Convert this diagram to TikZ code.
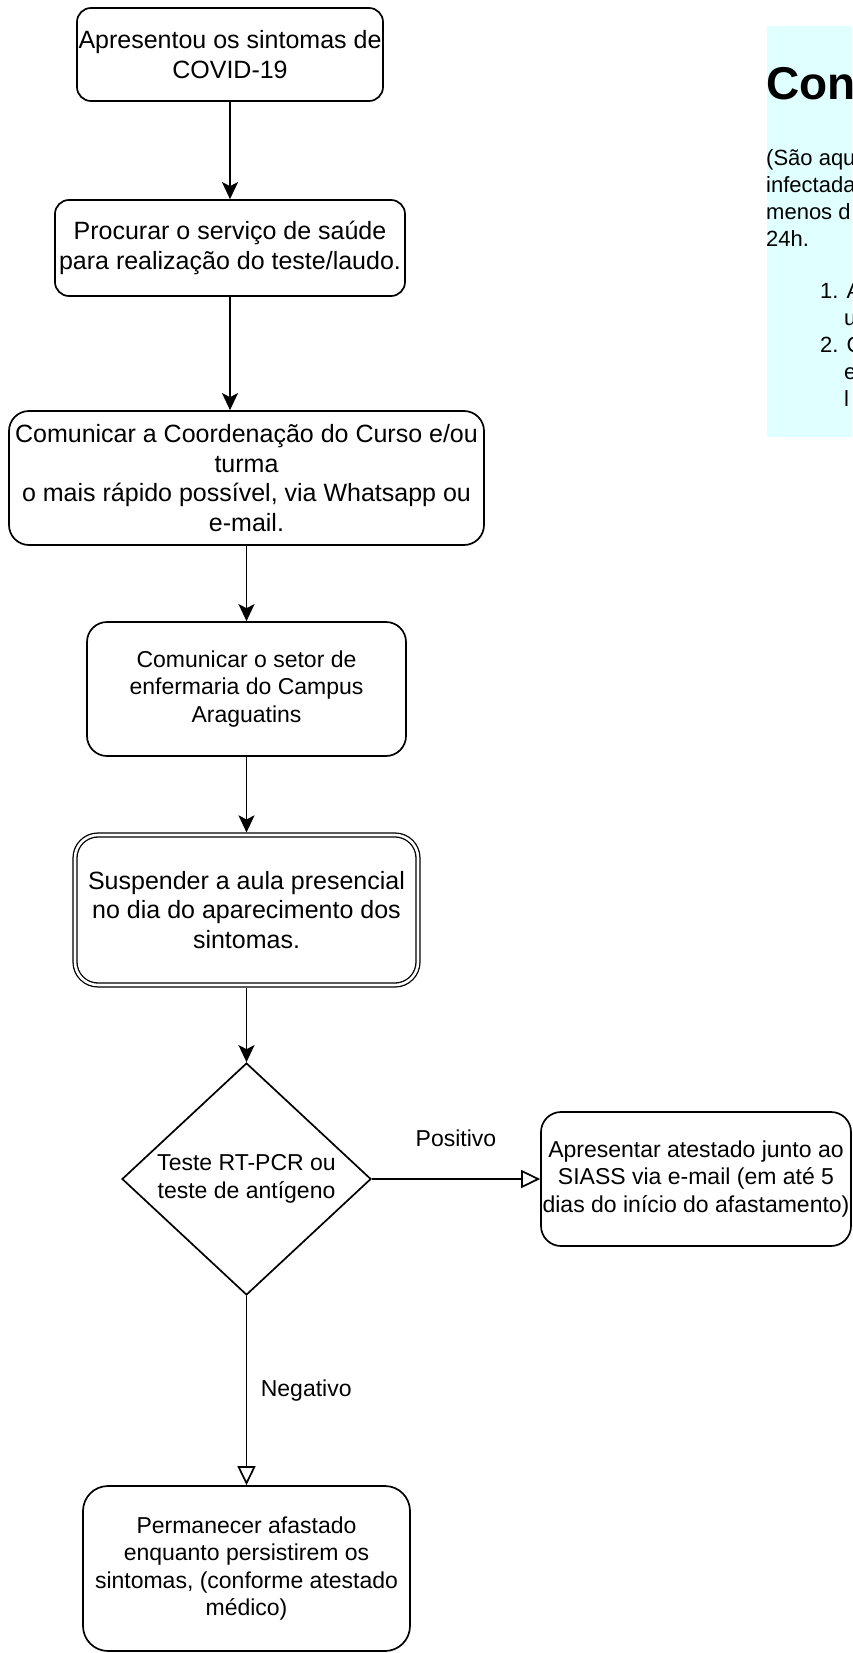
\documentclass[tikz,border=0pt]{standalone}
\usepackage{fontspec}
\setmainfont{Liberation Sans}
\usepackage{xcolor}
\usepackage{tikz}
\usetikzlibrary{positioning}
\usetikzlibrary{shapes.geometric}
\usetikzlibrary{arrows.meta}

\definecolor{notecyan}{HTML}{E0FFFF}

\begin{document}
\begin{tikzpicture}[x=1pt,y=-1pt,
  box/.style={draw, line width=1.7pt, fill=white, rounded corners=14pt, align=center, inner sep=0pt},
  bigtext/.style={font=\fontsize{25}{29.5}\selectfont},
  smalltext/.style={font=\fontsize{23}{27.6}\selectfont},
  flow/.style={line width=1.7pt, -{Stealth[length=17pt,width=16pt,inset=4pt]}},
  openflow/.style={line width=1.7pt, -{Triangle[open,length=19pt,width=18pt,fill=white]}},
  note/.style={anchor=base west, inner sep=0pt, font=\fontsize{22}{27}\selectfont}]

% Page
\useasboundingbox (0,0) rectangle (852,1653);
\clip (0,0) rectangle (852,1653);

% Side note
\fill[notecyan] (767,26) rectangle (860,437);
\node[note, font=\bfseries\fontsize{46}{55}\selectfont] (titulo) at (766,100) {Con};
\node[note] (linha1) at (766,166) {(São aqu};
\node[note] (linha2) at (766,193) {infectada};
\node[note] (linha3) at (766,220) {menos d};
\node[note] (linha4) at (766,247) {24h.};
\node[note] (item1) at (820,298) {1. A};
\node[note] (item1b) at (844,325) {u};
\node[note] (item2) at (820,352) {2. C};
\node[note] (item2b) at (844,379) {e};
\node[note] (item2c) at (844,406) {l};

% Draw steps
\node[box, bigtext, minimum width=306pt, minimum height=93pt] (sintomas) at (230,54.5) {Apresentou os sintomas de\\COVID-19};
\node[box, bigtext, minimum width=350pt, minimum height=96pt] (servico) at (230,248) {Procurar o serviço de saúde\\para realização do teste/laudo.};
\node[box, bigtext, rounded corners=20pt, minimum width=475pt, minimum height=134pt] (coordenacao) at (246.5,478) {Comunicar a Coordenação do Curso e/ou\\turma\\ o mais rápido possível, via Whatsapp ou\\e-mail.};
\node[box, smalltext, rounded corners=20pt, minimum width=319pt, minimum height=134pt] (enfermaria) at (246.5,689) {Comunicar o setor de\\enfermaria do Campus\\Araguatins};
\node[box, bigtext, double, double distance=2.6pt, line width=1.3pt, outer sep=2.6pt, rounded corners=23pt, minimum width=343pt, minimum height=150pt] (suspender) at (246.5,910) {Suspender a aula presencial\\no dia do aparecimento dos\\sintomas.};

% Draw decision
\node[draw, diamond, line width=1.7pt, fill=white, smalltext, align=center, inner sep=0pt, minimum width=249pt, minimum height=232pt] (teste) at (246.5,1179) {Teste RT-PCR ou\\teste de antígeno};
\node[box, smalltext, rounded corners=20pt, minimum width=310pt, minimum height=134pt] (atestado) at (696,1179) {Apresentar atestado junto ao\\SIASS via e-mail (em até 5\\dias do início do afastamento)};
\node[box, smalltext, rounded corners=25pt, minimum width=327pt, minimum height=165pt] (afastado) at (246.5,1568.5) {Permanecer afastado\\enquanto persistirem os\\sintomas, (conforme atestado\\médico)};

% Draw arrows
\draw[flow] (sintomas) -- (servico);
\draw[flow] (servico.south) -- (servico.south |- coordenacao.north);
\draw[flow] (coordenacao) -- (enfermaria);
\draw[flow] (enfermaria) -- (suspender);
\draw[flow] (suspender) -- (teste);
\draw[openflow] (teste.east) -- node[above=31pt, smalltext, inner sep=0pt] (positivo) {Positivo} (atestado.west);
\draw[openflow] (teste.south) -- node[right=13.5pt, smalltext, inner sep=0pt] (negativo) {Negativo} (afastado.north);

\end{tikzpicture}
\end{document}
